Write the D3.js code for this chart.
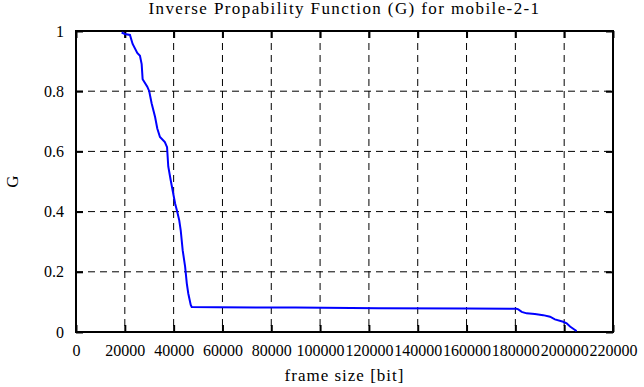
<!DOCTYPE html>
<html>
<head>
<meta charset="utf-8">
<script src="https://cdn.jsdelivr.net/npm/d3@7"></script>
<style>
  body { margin: 0; background: #fff; }
  svg text { font-family: "Liberation Serif", "DejaVu Serif", serif; fill: #000; }
</style>
</head>
<body>
<div id="chart"></div>
<script>
// frame sizes (bit) and inverse probability G
const frameSize = [18700, 20000, 22100, 23200, 25100, 26200, 26900, 27300, 29200, 30000,
    31000, 32400, 33300, 34400, 36400, 37300, 37800, 38800, 39600, 40600, 41500, 42300,
    42900, 43700, 44700, 45400, 46000, 47000, 47400, 58000, 90000, 124000, 160000, 180500,
    181200, 182600, 184600, 188000, 191400, 194200, 196200, 199600, 201000, 202400, 204000, 205100];
const gValues = [0.995, 0.99, 0.987, 0.957, 0.927, 0.918, 0.89, 0.84, 0.815, 0.80,
    0.759, 0.714, 0.676, 0.648, 0.631, 0.614, 0.55, 0.504, 0.47, 0.427, 0.399, 0.371,
    0.338, 0.272, 0.217, 0.161, 0.128, 0.09, 0.083, 0.082, 0.081, 0.079, 0.078, 0.077,
    0.075, 0.067, 0.062, 0.06, 0.056, 0.051, 0.042, 0.034, 0.029, 0.018, 0.009, 0.003];
const xTicks = d3.range(0, 220001, 20000);
const yTicks = [0, 0.2, 0.4, 0.6, 0.8, 1];

const data = frameSize.map((f, i) => ({ x: f, g: gValues[i] }));

const W = 644, H = 387;
const margin = { top: 31, right: 31, bottom: 55, left: 76 };
const width = W - margin.left - margin.right;
const height = H - margin.top - margin.bottom;
const serif = "'Liberation Serif', 'DejaVu Serif', serif";

const svg = d3.select("#chart").append("svg")
    .attr("width", W)
    .attr("height", H);

const g = svg.append("g")
    .attr("transform", `translate(${margin.left},${margin.top})`);

const x = d3.scaleLinear().domain([0, 220000]).range([0, width]);
const y = d3.scaleLinear().domain([0, 1]).range([height, 0]);

// dashed grid
g.selectAll(".vgrid")
    .data(xTicks.slice(1, -1))
    .enter().append("line")
    .attr("x1", d => x(d)).attr("x2", d => x(d))
    .attr("y1", 0).attr("y2", height)
    .attr("stroke", "#000").attr("stroke-width", 1)
    .attr("stroke-dasharray", "7,5");

g.selectAll(".hgrid")
    .data(yTicks.slice(1, -1))
    .enter().append("line")
    .attr("x1", 0).attr("x2", width)
    .attr("y1", d => y(d)).attr("y2", d => y(d))
    .attr("stroke", "#000").attr("stroke-width", 1)
    .attr("stroke-dasharray", "7,5");

// axes (ticks inward, mirrored)
const fmt = d => String(d);
g.append("g")
    .attr("transform", `translate(0,${height})`)
    .call(d3.axisBottom(x).tickValues(xTicks).tickFormat(fmt).tickSizeInner(-7).tickSizeOuter(0).tickPadding(13));
g.append("g")
    .call(d3.axisTop(x).tickValues(xTicks).tickFormat("").tickSizeInner(-7).tickSizeOuter(0));
g.append("g")
    .call(d3.axisLeft(y).tickValues(yTicks).tickFormat(fmt).tickSizeInner(-7).tickSizeOuter(0).tickPadding(12));
g.append("g")
    .attr("transform", `translate(${width},0)`)
    .call(d3.axisRight(y).tickValues(yTicks).tickFormat("").tickSizeInner(-7).tickSizeOuter(0));

g.selectAll(".domain").remove();
g.selectAll(".tick line").attr("stroke", "#000").attr("stroke-width", 2);
g.selectAll(".tick text")
    .attr("font-family", serif)
    .style("font-family", serif)
    .style("font-size", "16px");

// frame
g.append("rect")
    .attr("width", width).attr("height", height)
    .attr("fill", "none").attr("stroke", "#000").attr("stroke-width", 2);

// curve
const line = d3.line()
    .x(d => x(d.x))
    .y(d => y(d.g));

g.append("path")
    .datum(data)
    .attr("fill", "none")
    .attr("stroke", "#0000ff")
    .attr("stroke-width", 2)
    .attr("d", line);

// title and labels
svg.append("text")
    .attr("x", margin.left + width / 2)
    .attr("y", 14)
    .attr("text-anchor", "middle")
    .style("font-size", "17px")
    .style("letter-spacing", "1.4px")
    .text("Inverse Propability Function (G) for mobile-2-1");

svg.append("text")
    .attr("x", margin.left + width / 2)
    .attr("y", 381)
    .attr("text-anchor", "middle")
    .style("font-size", "17px")
    .style("letter-spacing", "1px")
    .text("frame size [bit]");

svg.append("text")
    .attr("transform", `translate(18,${margin.top + height / 2}) rotate(-90)`)
    .attr("text-anchor", "middle")
    .style("font-size", "17px")
    .text("G");
</script>
</body>
</html>
